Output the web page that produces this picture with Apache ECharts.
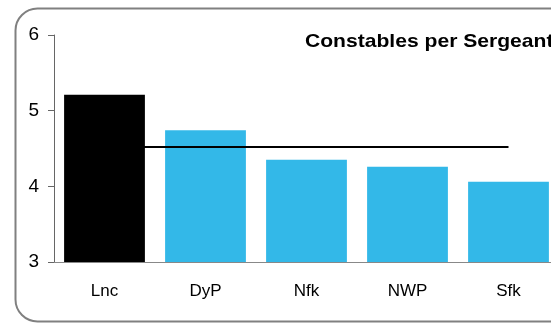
<!DOCTYPE html>
<html><head><meta charset="utf-8">
<script src="https://cdn.jsdelivr.net/npm/echarts@6/dist/echarts.min.js"></script>
<style>html,body{margin:0;padding:0;background:#fff;}#c{width:551px;height:323px;}</style>
</head><body><div id="c"></div>
<script>
const categories = ['Lnc', 'DyP', 'Nfk', 'NWP', 'Sfk'];
const values = [5.21, 4.74, 4.35, 4.26, 4.06];
const average = [4.52, 4.52, 4.52, 4.52, 4.52];
const yTicks = [3, 4, 5, 6];
const highlight = 'Lnc';
const titleText = 'Constables per Sergeant';

const chart = echarts.init(document.getElementById('c'), null, {renderer: 'canvas'});
chart.setOption({
  animation: false,
  backgroundColor: '#fff',
  graphic: [{
    type: 'rect', left: 13, top: 6, z: -1,
    shape: {width: 580, height: 313, r: 22},
    style: {fill: 'none', stroke: '#808080', lineWidth: 2}
  }, {
    type: 'text', x: 305, y: 42, scaleX: 1.11, z: 10,
    style: {
      text: titleText, fill: '#000',
      font: 'bold 19px "Liberation Sans"',
      verticalAlign: 'middle', align: 'left'
    }
  }],
  grid: {left: 54, top: 35, width: 505, bottom: 61, outerBoundsMode: 'none'},
  xAxis: {
    type: 'category', data: categories,
    axisLine: {lineStyle: {color: '#888', width: 1}},
    axisTick: {show: false},
    axisLabel: {color: '#000', fontFamily: 'Liberation Sans', fontSize: 17, margin: 21}
  },
  yAxis: {
    type: 'value', min: yTicks[0], max: yTicks[yTicks.length - 1], interval: 1,
    axisLine: {show: true, lineStyle: {color: '#666', width: 1}},
    axisTick: {show: true, length: 6, lineStyle: {color: '#666'}},
    splitLine: {show: false},
    axisLabel: {color: '#000', fontFamily: 'Liberation Sans', fontSize: 19, margin: 15}
  },
  series: [{
    type: 'bar', data: values.map((v, i) => ({
      value: v,
      itemStyle: {color: categories[i] === highlight ? '#000' : '#33b8e8'}
    })),
    barCategoryGap: '20%', z: 2
  }, {
    type: 'line', data: average, symbol: 'none', z: 3,
    lineStyle: {color: '#000', width: 2}
  }]
});
</script></body></html>
